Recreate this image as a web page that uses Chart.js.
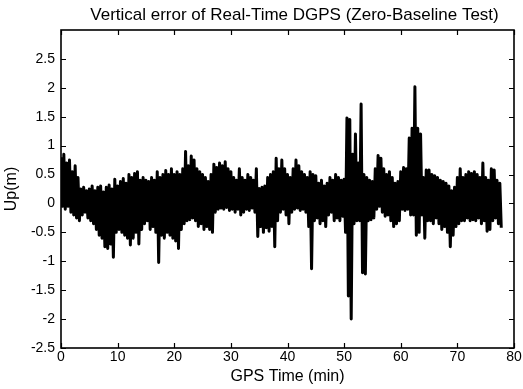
<!DOCTYPE html>
<html><head><meta charset="utf-8">
<script src="https://cdn.jsdelivr.net/npm/chart.js@4/dist/chart.umd.min.js"></script>
<style>html,body{margin:0;padding:0;background:#fff}</style>
</head><body>
<canvas id="c" width="523" height="389"></canvas>
<script>
const chartTitle = 'Vertical error of Real-Time DGPS (Zero-Baseline Test)';
const xTitle = 'GPS Time (min)';
const yTitle = 'Up(m)';
const xTickValues = [0, 10, 20, 30, 40, 50, 60, 70, 80];
const yTickValues = [-2.5, -2, -1.5, -1, -0.5, 0, 0.5, 1, 1.5, 2, 2.5];
const sampleStepMin = 0.5;

// upper excursions (m), one every 0.5 min from t = 0
const upperPeaks = [
  0.80, 0.85, 0.70, 0.75, 0.55, 0.65, 0.45, 0.25, 0.28, 0.22,
  0.25, 0.30, 0.22, 0.28, 0.30, 0.20, 0.28, 0.32, 0.25, 0.42,
  0.30, 0.38, 0.43, 0.35, 0.50, 0.45, 0.52, 0.55, 0.40, 0.45,
  0.40, 0.38, 0.45, 0.40, 0.55, 0.45, 0.50, 0.57, 0.50, 0.60,
  0.50, 0.55, 0.50, 0.60, 0.90, 0.65, 0.82, 0.75, 0.60, 0.55,
  0.50, 0.45, 0.38, 0.50, 0.68, 0.62, 0.70, 0.65, 0.72, 0.60,
  0.55, 0.45, 0.40, 0.60, 0.45, 0.40, 0.50, 0.45, 0.40, 0.60,
  0.26, 0.28, 0.30, 0.45, 0.50, 0.55, 0.78, 0.60, 0.75, 0.60,
  0.50, 0.45, 0.60, 0.75, 0.65, 0.55, 0.50, 0.45, 0.55, 0.50,
  0.48, 0.35, 0.40, 0.30, 0.35, 0.45, 0.40, 0.50, 0.45, 0.40,
  0.42, 1.48, 1.45, 0.85, 1.20, 0.70, 1.72, 0.50, 0.45, 0.40,
  0.38, 0.60, 0.83, 0.78, 0.60, 0.50, 0.55, 0.45, 0.35, 0.38,
  0.55, 0.62, 0.60, 1.13, 1.30, 2.02, 1.30, 1.20, 0.45, 0.58,
  0.58, 0.50, 0.48, 0.45, 0.40, 0.38, 0.35, 0.30, 0.22, 0.28,
  0.45, 0.60, 0.45, 0.50, 0.55, 0.52, 0.55, 0.50, 0.45, 0.70,
  0.45, 0.40, 0.60, 0.58, 0.40, 0.35
];
// lower excursions (m), one every 0.5 min from t = 0.25
const lowerPeaks = [
  -0.05, -0.10, -0.05, -0.15, -0.20, -0.25, -0.30, -0.20, -0.15, -0.25,
  -0.30, -0.35, -0.45, -0.55, -0.60, -0.75, -0.78, -0.70, -0.93, -0.50,
  -0.45, -0.50, -0.55, -0.60, -0.72, -0.60, -0.50, -0.70, -0.45, -0.35,
  -0.30, -0.45, -0.40, -0.50, -1.02, -0.55, -0.60, -0.50, -0.55, -0.60,
  -0.65, -0.78, -0.45, -0.35, -0.30, -0.28, -0.25, -0.30, -0.40, -0.35,
  -0.45, -0.40, -0.45, -0.50, -0.15, -0.10, -0.08, -0.10, -0.07, -0.12,
  -0.10, -0.15, -0.10, -0.20, -0.15, -0.10, -0.12, -0.08, -0.15, -0.57,
  -0.40, -0.50, -0.42, -0.48, -0.40, -0.75, -0.30, -0.15, -0.10, -0.20,
  -0.35, -0.15, -0.10, -0.08, -0.12, -0.10, -0.15, -0.40, -1.13, -0.30,
  -0.25, -0.35, -0.30, -0.40, -0.20, -0.15, -0.30, -0.25, -0.30, -0.22,
  -0.50, -1.60, -2.00, -0.35, -0.30, -0.30, -1.20, -1.22, -0.30, -0.28,
  -0.25, -0.10, -0.05, -0.15, -0.22, -0.20, -0.30, -0.40, -0.35, -0.30,
  -0.10, -0.12, -0.10, -0.20, -0.20, -0.55, -0.50, -0.20, -0.60, -0.30,
  -0.30, -0.35, -0.25, -0.35, -0.45, -0.40, -0.50, -0.75, -0.55, -0.40,
  -0.35, -0.30, -0.30, -0.25, -0.30, -0.28, -0.30, -0.25, -0.35, -0.30,
  -0.48, -0.45, -0.30, -0.25, -0.35, -0.42
];

const series = [];
for (let i = 0; i < upperPeaks.length; i++) {
  const t = i * sampleStepMin;
  series.push({ x: t, y: upperPeaks[i] });
  series.push({ x: t + sampleStepMin / 2, y: lowerPeaks[i] });
}

const FONT = '"Liberation Sans", Arial, Helvetica, sans-serif';

const framePlugin = {
  id: 'frame',
  afterDraw(chart) {
    const { ctx, chartArea: a, scales } = chart;
    ctx.save();
    ctx.strokeStyle = '#000';
    ctx.lineWidth = 1.6;
    ctx.strokeRect(a.left, a.top, a.right - a.left, a.bottom - a.top);
    ctx.lineWidth = 1.2;
    const L = 5;
    ctx.beginPath();
    scales.x.ticks.forEach(tk => {
      const px = Math.round(scales.x.getPixelForValue(tk.value)) + 0.5;
      ctx.moveTo(px, a.bottom); ctx.lineTo(px, a.bottom - L);
      ctx.moveTo(px, a.top); ctx.lineTo(px, a.top + L);
    });
    scales.y.ticks.forEach(tk => {
      const py = Math.round(scales.y.getPixelForValue(tk.value)) + 0.5;
      ctx.moveTo(a.left, py); ctx.lineTo(a.left + L, py);
      ctx.moveTo(a.right, py); ctx.lineTo(a.right - L, py);
    });
    ctx.stroke();
    ctx.fillStyle = '#000';
    ctx.font = '17px ' + FONT;
    ctx.textAlign = 'center';
    ctx.textBaseline = 'middle';
    ctx.fillText(chartTitle, (a.left + a.right) / 2 + 7, 15);
    ctx.restore();
  }
};

new Chart(document.getElementById('c'), {
  type: 'line',
  data: {
    datasets: [{
      data: series,
      borderColor: '#000',
      borderWidth: 3,
      borderJoinStyle: 'round',
      pointRadius: 0,
      tension: 0,
      fill: false
    }]
  },
  options: {
    responsive: false,
    animation: false,
    devicePixelRatio: 1,
    layout: { padding: { left: 2, right: 9, top: 30, bottom: 0 } },
    plugins: { legend: { display: false }, tooltip: { enabled: false }, title: { display: false } },
    scales: {
      x: {
        type: 'linear', min: 0, max: 80,
        afterBuildTicks: s => { s.ticks = xTickValues.map(v => ({ value: v })); },
        grid: { display: false, drawTicks: false },
        border: { display: false },
        ticks: { color: '#000', font: { family: FONT, size: 14 }, padding: 1, maxRotation: 0, autoSkip: false,
                 callback: v => String(v) },
        title: { display: true, text: xTitle, color: '#000', font: { family: FONT, size: 16 }, padding: { top: 0, bottom: 3 } },
        afterFit: s => { s.height = 41; }
      },
      y: {
        type: 'linear', min: -2.5, max: 3,
        afterBuildTicks: s => { s.ticks = yTickValues.map(v => ({ value: v })); },
        grid: { display: false, drawTicks: false },
        border: { display: false },
        ticks: { color: '#000', font: { family: FONT, size: 14 }, padding: 6, autoSkip: false,
                 callback: v => String(v) },
        title: { display: true, text: yTitle, color: '#000', font: { family: FONT, size: 16 }, padding: { top: 0, bottom: 4 } },
        afterFit: s => { s.width = 59; }
      }
    }
  },
  plugins: [framePlugin]
});
</script>
</body></html>
